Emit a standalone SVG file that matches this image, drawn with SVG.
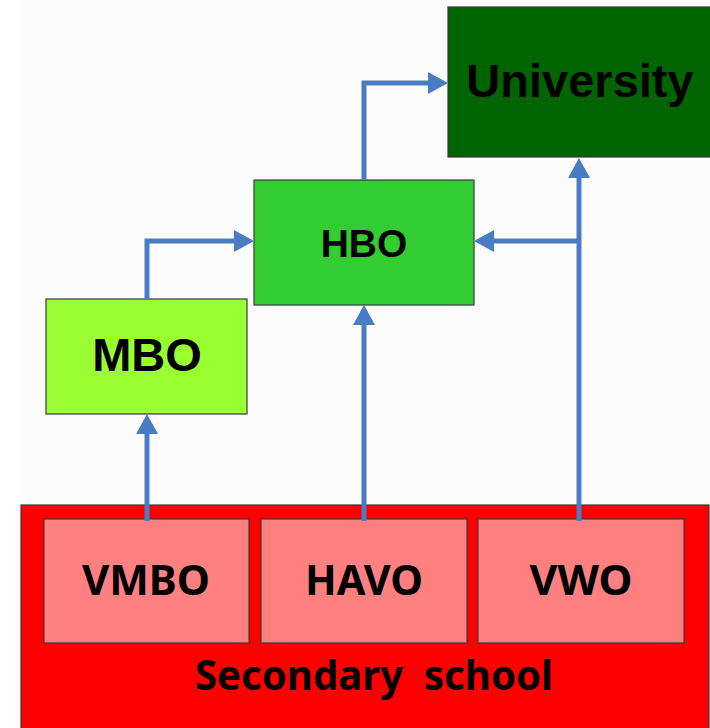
<svg xmlns="http://www.w3.org/2000/svg" width="710" height="728" viewBox="0 0 710 728">
<style>
.box{stroke:#3a3a3a;stroke-width:1.2}
.t1{font-family:"Liberation Sans",Arial,sans-serif;font-weight:bold;fill:#000;text-anchor:middle}
.t2{font-family:"Noto Sans","Open Sans",sans-serif;font-weight:bold;fill:#000;text-anchor:middle}
.con{fill:none;stroke:#4a7cc4;stroke-width:5;stroke-linejoin:miter}
</style>
<defs>
<marker id="ah" markerUnits="userSpaceOnUse" markerWidth="20" markerHeight="22" viewBox="0 0 20 22" refX="0" refY="11" orient="auto">
<path d="M0,0 L20,11 L0,22 Z" fill="#4a7cc4"/>
</marker>
</defs>
<rect x="0" y="0" width="710" height="728" fill="#ffffff"/>
<rect x="20" y="0" width="690" height="728" fill="#fcfcfc"/>
<g id="secondary">
<rect class="box" x="21" y="505" width="688" height="230" fill="#ff0000" stroke="#888"/>
<text class="t2" x="374" y="690" font-size="42" textLength="358" lengthAdjust="spacingAndGlyphs" xml:space="preserve">Secondary  school</text>
</g>
<g id="vmbo">
<rect class="box" x="44" y="519" width="205" height="124" fill="#ff8080"/>
<text class="t2" x="146" y="595" font-size="42" textLength="128" lengthAdjust="spacingAndGlyphs">VMBO</text>
</g>
<g id="havo">
<rect class="box" x="261" y="519" width="206" height="124" fill="#ff8080"/>
<text class="t2" x="364" y="595" font-size="42" textLength="118" lengthAdjust="spacingAndGlyphs">HAVO</text>
</g>
<g id="vwo">
<rect class="box" x="478" y="519" width="206" height="124" fill="#ff8080"/>
<text class="t2" x="581" y="595" font-size="42" textLength="103" lengthAdjust="spacingAndGlyphs">VWO</text>
</g>
<g id="mbo">
<rect class="box" x="46" y="299" width="201" height="115" fill="#99ff33"/>
<text class="t1" x="147" y="371" font-size="47">MBO</text>
</g>
<g id="hbo">
<rect class="box" x="254" y="180" width="220" height="125" fill="#33cc33"/>
<text class="t1" x="364" y="257" font-size="39">HBO</text>
</g>
<g id="university">
<rect class="box" x="448" y="7" width="263" height="150" fill="#006400"/>
<text class="t1" x="580" y="97" font-size="47">University</text>
</g>
<g id="connectors">
<path class="con" d="M147,521 L147,434" marker-end="url(#ah)"/>
<path class="con" d="M147,299 L147,241 L234,241" marker-end="url(#ah)"/>
<path class="con" d="M364,521 L364,325" marker-end="url(#ah)"/>
<path class="con" d="M579,521 L579,178" marker-end="url(#ah)"/>
<path class="con" d="M579,241 L494,241" marker-end="url(#ah)"/>
<path class="con" d="M364,180 L364,83 L428,83" marker-end="url(#ah)"/>
</g>
</svg>
